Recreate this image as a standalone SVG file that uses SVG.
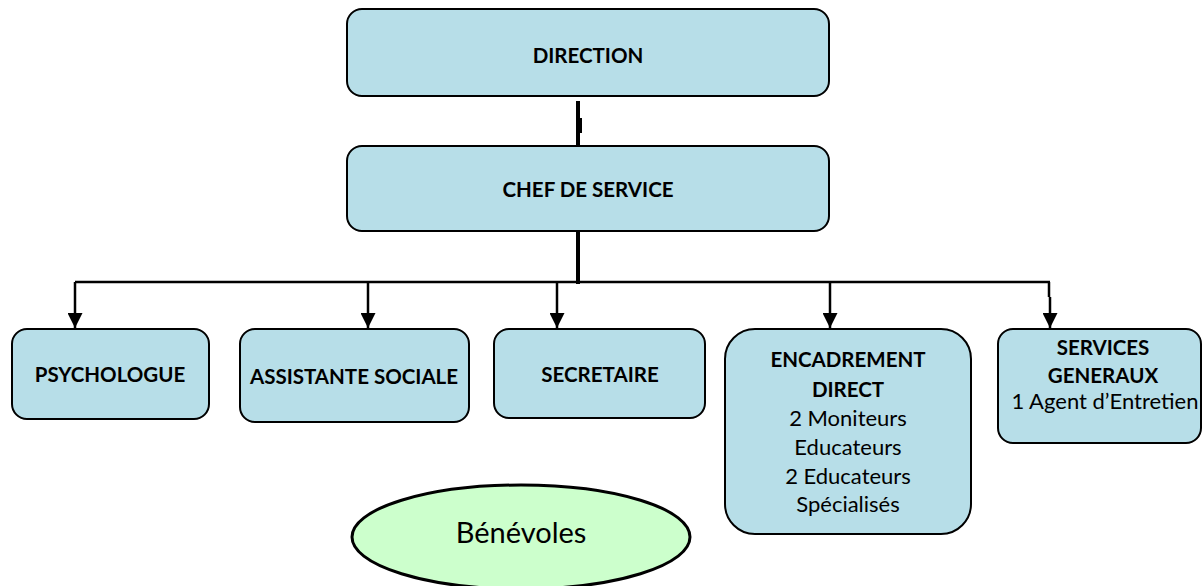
<svg xmlns="http://www.w3.org/2000/svg" width="1202" height="586" viewBox="0 0 1202 586">
<style>
.box{fill:#B7DEE8;stroke:#000;stroke-width:2}
.b{font-family:Lato,"Liberation Sans",sans-serif;font-weight:bold;font-size:20.5px;fill:#000;text-anchor:middle}
.r{font-family:Lato,"Liberation Sans",sans-serif;font-size:22px;fill:#000;text-anchor:middle}
.ln{fill:none;stroke:#000;stroke-width:2.5}
.thick{fill:none;stroke:#000;stroke-width:4}
</style>
<defs>
<marker id="arr" viewBox="0 0 10 10" refX="10" refY="5" markerWidth="15" markerHeight="15" markerUnits="userSpaceOnUse" orient="auto">
<path d="M0,0 L10,5 L0,10 z" fill="#000"/>
</marker>
</defs>
<rect width="1202" height="586" fill="#fff"/>
<g id="connectors">
<line class="thick" x1="578" y1="101" x2="578" y2="146"/>
<line class="thick" x1="580" y1="118" x2="580" y2="133"/>
<line class="thick" x1="578" y1="231" x2="578" y2="284"/>
<path class="ln" d="M75,282 H1050"/>
<path class="ln" d="M75,282 V328" marker-end="url(#arr)"/>
<path class="ln" d="M368,282 V328" marker-end="url(#arr)"/>
<path class="ln" d="M557,282 V328" marker-end="url(#arr)"/>
<path class="ln" d="M830,282 V328" marker-end="url(#arr)"/>
<path class="ln" d="M1049,282 V297 M1050,297 V328" marker-end="url(#arr)"/>
</g>
<g id="direction">
<rect class="box" x="347" y="9" width="482" height="87" rx="15"/>
<text class="b" x="588" y="63">DIRECTION</text>
</g>
<g id="chef">
<rect class="box" x="347" y="146" width="482" height="85" rx="15"/>
<text class="b" x="588" y="197">CHEF DE SERVICE</text>
</g>
<g id="psychologue">
<rect class="box" x="12" y="329" width="197" height="90" rx="15"/>
<text class="b" x="110" y="382">PSYCHOLOGUE</text>
</g>
<g id="assistante">
<rect class="box" x="240" y="329" width="229" height="93" rx="15"/>
<text class="b" x="354" y="384">ASSISTANTE SOCIALE</text>
</g>
<g id="secretaire">
<rect class="box" x="494" y="329" width="211" height="89" rx="15"/>
<text class="b" x="600" y="382">SECRETAIRE</text>
</g>
<g id="encadrement">
<rect class="box" x="725" y="329" width="246" height="205" rx="30"/>
<text class="b" x="848" y="367">ENCADREMENT</text>
<text class="b" x="848" y="397">DIRECT</text>
<text class="r" x="848" y="426">2 Moniteurs</text>
<text class="r" x="848" y="455">Educateurs</text>
<text class="r" x="848" y="484">2 Educateurs</text>
<text class="r" x="848" y="512">Spécialisés</text>
</g>
<g id="services">
<rect class="box" x="998" y="329" width="203" height="114" rx="15"/>
<text class="b" x="1103" y="355">SERVICES</text>
<text class="b" x="1103" y="383">GENERAUX</text>
<text class="r" x="1105" y="409">1 Agent d’Entretien</text>
</g>
<g id="benevoles">
<ellipse cx="521" cy="537" rx="169" ry="52" fill="#CCFFCC" stroke="#000" stroke-width="3"/>
<text class="r" x="521" y="543" style="font-size:29px">Bénévoles</text>
</g>
</svg>
